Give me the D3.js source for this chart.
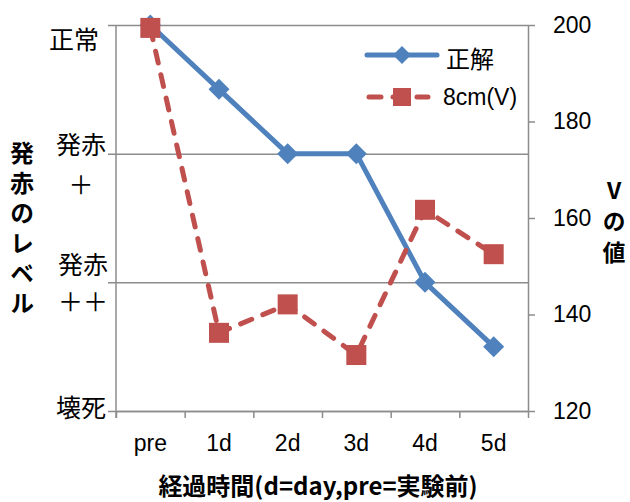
<!DOCTYPE html>
<html>
<head>
<meta charset="utf-8">
<script src="https://cdn.jsdelivr.net/npm/d3@7"></script>
<style>
  body { margin: 0; background: #fff; }
  text { font-family: "Liberation Sans", "Noto Sans CJK JP", sans-serif; }
  .jp { font-family: "Noto Sans CJK JP", sans-serif; }
  .vert { writing-mode: vertical-rl; text-orientation: upright; }
</style>
</head>
<body>
<svg id="chart"></svg>
<script>
// data
const categories = ["pre", "1d", "2d", "3d", "4d", "5d"];
const seikai = [3, 2.5, 2, 2, 1, 0.5];              // left axis (level)
const volt8cm = [199.4, 136.2, 142.1, 131.6, 161.7, 152.5]; // right axis
const levelLabels = [["壊死"], ["発赤", "＋＋"], ["発赤", "＋"], ["正常"]];
const rightTicks = [120, 140, 160, 180, 200];
const seriesNames = ["正解", "8cm(V)"];

const W = 630, H = 502;
const plot = {left: 116, right: 528, top: 25, bottom: 411};
const blue = "#4F81BD", red = "#C0504D", grid = "#8c8c8c";

const svg = d3.select("#chart").attr("width", W).attr("height", H);

const x = d3.scaleBand().domain(categories).range([plot.left, plot.right]).padding(0);
const xi = d3.scaleLinear().domain([0, categories.length]).range([plot.left, plot.right]);
const yL = d3.scaleLinear().domain([0, 3]).range([plot.bottom, plot.top]);
const yR = d3.scaleLinear().domain([120, 200]).range([plot.bottom, plot.top]);

// gridlines for the levels (with outside tick)
svg.append("g")
  .attr("transform", `translate(${plot.right},0)`)
  .call(d3.axisLeft(yL).tickValues([0, 1, 2, 3]).tickSize(plot.right - plot.left + 8).tickFormat(""))
  .call(g => g.select(".domain").remove())
  .call(g => g.selectAll("line").attr("stroke", grid).attr("stroke-width", 1.5));

// left axis line
svg.append("line")
  .attr("x1", plot.left).attr("x2", plot.left)
  .attr("y1", plot.top).attr("y2", plot.bottom + 7)
  .attr("stroke", grid).attr("stroke-width", 1.5);

// left level labels (placed by hand like the original text boxes)
const labelOffsets = [[-3], [-17, 20], [-9, 31], [15]];
const labelX = [81, 83, 81, 74];
levelLabels.forEach((lines, i) => {
  const t = svg.append("text").attr("class", "jp")
    .attr("text-anchor", "middle")
    .style("font-size", "25px").attr("fill", "#000");
  lines.forEach((s, j) => {
    t.append("tspan")
      .attr("x", labelX[i]).attr("y", yL(i) + labelOffsets[i][j] + 9)
      .text(s);
  });
});

// right axis
svg.append("g")
  .attr("transform", `translate(${plot.right},0)`)
  .call(d3.axisRight(yR).tickValues(rightTicks).tickSize(7).tickSizeOuter(0).tickPadding(18))
  .call(g => g.selectAll("line, .domain").attr("stroke", grid).attr("stroke-width", 1.5))
  .call(g => g.selectAll("text").style("font-size", "23px").attr("fill", "#000")
    .attr("font-family", "Liberation Sans"));

// bottom axis: tick marks on band boundaries
svg.append("g")
  .attr("transform", `translate(0,${plot.bottom})`)
  .call(d3.axisBottom(xi).tickValues(d3.range(categories.length + 1)).tickSize(7).tickSizeOuter(0).tickFormat(""))
  .call(g => g.selectAll("line, .domain").attr("stroke", grid).attr("stroke-width", 1.5));

// bottom axis: labels at band centers
svg.append("g")
  .attr("transform", `translate(0,${plot.bottom})`)
  .call(d3.axisBottom(x).tickSize(0).tickPadding(24))
  .call(g => g.select(".domain").remove())
  .call(g => g.selectAll("text").style("font-size", "23px").attr("fill", "#000")
    .attr("font-family", "Liberation Sans"));

const cx = d => x(d) + x.bandwidth() / 2;

// series 1: 正解 (left axis)
svg.append("path")
  .datum(seikai)
  .attr("fill", "none").attr("stroke", blue).attr("stroke-width", 5)
  .attr("stroke-linejoin", "round").attr("stroke-linecap", "round")
  .attr("d", d3.line().x((d, i) => cx(categories[i])).y(d => yL(d)));

const diamond = r => `M0,${-r}L${r},0L0,${r}L${-r},0Z`;
svg.selectAll(".dia").data(seikai).join("path")
  .attr("class", "dia")
  .attr("transform", (d, i) => `translate(${cx(categories[i])},${yL(d)})`)
  .attr("d", diamond(10.5)).attr("fill", blue);

// series 2: 8cm(V) (right axis)
svg.append("path")
  .datum(volt8cm)
  .attr("fill", "none").attr("stroke", red).attr("stroke-width", 5)
  .attr("stroke-dasharray", "12,12").attr("stroke-linecap", "round")
  .attr("d", d3.line().x((d, i) => cx(categories[i])).y(d => yR(d)));

svg.selectAll(".sq").data(volt8cm).join("rect")
  .attr("class", "sq")
  .attr("x", (d, i) => cx(categories[i]) - 10)
  .attr("y", d => yR(d) - 10)
  .attr("width", 20).attr("height", 20)
  .attr("fill", red);

// legend
const leg = svg.append("g");
leg.append("line").attr("x1", 367).attr("x2", 437).attr("y1", 55).attr("y2", 55)
  .attr("stroke", blue).attr("stroke-width", 5).attr("stroke-linecap", "round");
leg.append("path").attr("transform", "translate(402,55)").attr("d", diamond(9)).attr("fill", blue);
leg.append("text").attr("class", "jp").attr("x", 446).attr("y", 57)
  .attr("dominant-baseline", "central").style("font-size", "24px").text(seriesNames[0]);

leg.append("line").attr("x1", 369).attr("x2", 428).attr("y1", 97).attr("y2", 97)
  .attr("stroke", red).attr("stroke-width", 5).attr("stroke-linecap", "round")
  .attr("stroke-dasharray", "12,12");
leg.append("rect").attr("x", 393).attr("y", 88).attr("width", 18).attr("height", 18).attr("fill", red);
leg.append("text").attr("x", 443).attr("y", 97)
  .attr("dominant-baseline", "central").style("font-size", "23px").text(seriesNames[1]);

// left axis title (vertical writing)
svg.append("text").attr("class", "jp vert")
  .attr("x", 22).attr("y", 141)
  .style("font-size", "24px").style("font-weight", "bold")
  .style("letter-spacing", "6px")
  .text("発赤のレベル");

// right axis title (vertical writing)
svg.append("text").attr("class", "jp vert")
  .attr("x", 614).attr("y", 179)
  .style("font-size", "23px").style("font-weight", "bold")
  .style("letter-spacing", "8px")
  .text("Vの値");

// x axis title
svg.append("text").attr("class", "jp")
  .attr("x", 318).attr("y", 484)
  .attr("text-anchor", "middle").attr("dominant-baseline", "central")
  .style("font-size", "24px").style("font-weight", "bold")
  .text("経過時間(d=day,pre=実験前)");
</script>
</body>
</html>
